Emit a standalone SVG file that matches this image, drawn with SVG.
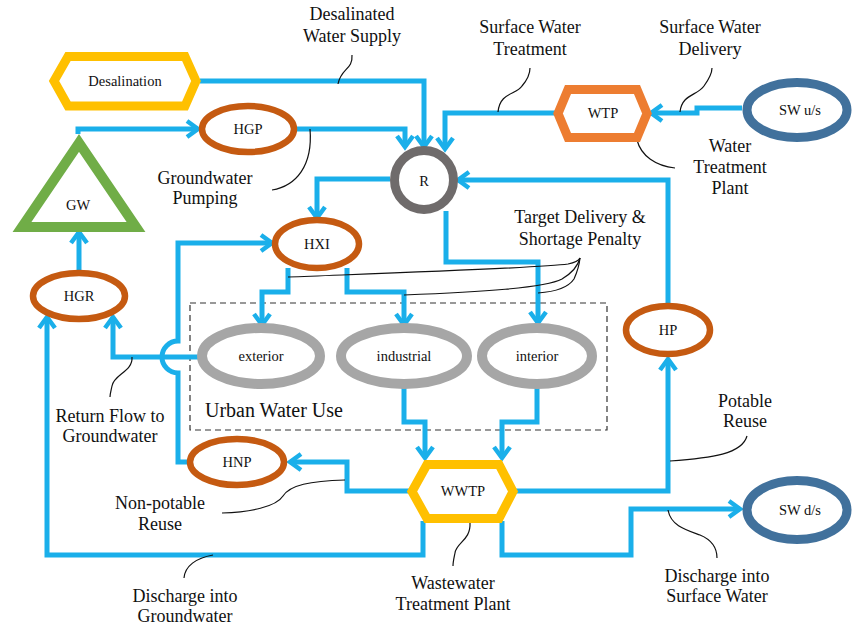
<svg xmlns="http://www.w3.org/2000/svg" width="852" height="626" viewBox="0 0 852 626">
<style>
.c{fill:none;stroke:#1AAFEA;stroke-width:5;stroke-linejoin:miter;marker-end:url(#ah)}
.k{fill:none;stroke:#111;stroke-width:1.2}
text{font-family:'Liberation Serif','DejaVu Serif','Tinos','Noto Serif',serif;fill:#111}
.lb{font-size:18px;text-anchor:middle}
.nt{font-size:14.5px;text-anchor:middle}
.hx{fill:#fff;stroke-width:9}
.br{fill:#fff;stroke:#C55A11;stroke-width:6.5}
.use{fill:#fff;stroke:#A6A6A6;stroke-width:10}
.sw{fill:#fff;stroke:#41719C;stroke-width:9}
</style>
<defs>
<marker id="ah" markerUnits="userSpaceOnUse" markerWidth="24" markerHeight="24" viewBox="-14 -12 18 24" refX="0" refY="0" orient="auto" overflow="visible">
<path d="M-11,-8 L0,0 L-11,8" fill="none" stroke="#1AAFEA" stroke-width="4.5"/>
</marker>
</defs>
<rect width="852" height="626" fill="#fff"/>

<g id="urban-box">
<rect x="190" y="303" width="417" height="127" fill="none" stroke="#333" stroke-width="1.2" stroke-dasharray="6,4"/>
<text x="205" y="417" font-size="20">Urban Water Use</text>
</g>

<g id="connectors">
<path class="c" d="M200,81 H424 V147"/>
<path class="c" d="M78,134 V129 H198"/>
<path class="c" d="M297,129 H405 V147"/>
<path class="c" d="M742,108 H697 V113 H651"/>
<path class="c" d="M556,113 H445 V149"/>
<path class="c" d="M390,179 H317 V218"/>
<path class="c" d="M668,304 V180 H458"/>
<path class="c" d="M446,211 V262 H538 V323"/>
<path class="c" d="M288,268 V292 H262 V325"/>
<path class="c" d="M347,268 V292 H404 V325"/>
<path class="c" d="M404,387 V422 H425 V458"/>
<path class="c" d="M537,387 V422 H502 V458"/>
<path class="c" d="M409,491 H347 V462 H290"/>
<path class="c" d="M188,462 H178 V373 A16,16 0 0 1 178,341 V243 H272"/>
<path class="c" d="M198,357 H113 V317"/>
<path class="c" d="M423,521 V555 H47 V317"/>
<path class="c" d="M515,491 H668 V359"/>
<path class="c" d="M502,521 V555 H631 V509 H740"/>
<path class="c" d="M79,270 V232"/>
</g>

<g id="callouts">
<path class="k" d="M338,84 C341,68 353,70 352,55"/>
<path class="k" d="M498,112 C500,92 516,95 522,86 C528,79 530,74 530,68"/>
<path class="k" d="M680,112 C682,94 697,96 704,86 C709,79 712,74 712,68"/>
<path class="k" d="M637,140 C641,156 656,166 675,168"/>
<path class="k" d="M310,129 C313,166 296,186 272,190"/>
<path class="k" d="M288,277 C420,272 540,268 568,264 Q578,262 580,258"/>
<path class="k" d="M404,295 C480,292 545,288 562,279 Q577,270 580,258"/>
<path class="k" d="M538,293 Q566,291 574,279 Q579,268 580,258"/>
<path class="k" d="M132,357 C133,372 114,374 112,386 C111,391 110,394 110,397"/>
<path class="k" d="M345,480 C310,481 290,485 283,496 C276,507 250,512 222,513"/>
<path class="k" d="M213,555 C196,558 185,566 184,578"/>
<path class="k" d="M470,523 C471,540 456,543 455,553 C454,558 453,562 453,566"/>
<path class="k" d="M670,461 C712,458 742,454 747,436"/>
<path class="k" d="M668,510 C671,526 686,530 700,535 C712,540 717,548 717,558"/>
</g>

<g id="labels">
<text class="lb" x="352" y="20">Desalinated</text>
<text class="lb" x="352" y="42">Water Supply</text>
<text class="lb" x="530" y="33">Surface Water</text>
<text class="lb" x="530" y="55">Treatment</text>
<text class="lb" x="710" y="33">Surface Water</text>
<text class="lb" x="710" y="55">Delivery</text>
<text class="lb" x="730" y="152">Water</text>
<text class="lb" x="730" y="173">Treatment</text>
<text class="lb" x="730" y="194">Plant</text>
<text class="lb" x="205" y="184">Groundwater</text>
<text class="lb" x="205" y="204">Pumping</text>
<text class="lb" x="580" y="223">Target Delivery &amp;</text>
<text class="lb" x="580" y="245">Shortage Penalty</text>
<text class="lb" x="110" y="422">Return Flow to</text>
<text class="lb" x="110" y="442">Groundwater</text>
<text class="lb" x="160" y="509">Non-potable</text>
<text class="lb" x="160" y="530">Reuse</text>
<text class="lb" x="185" y="602">Discharge into</text>
<text class="lb" x="185" y="622">Groundwater</text>
<text class="lb" x="453" y="589">Wastewater</text>
<text class="lb" x="453" y="610">Treatment Plant</text>
<text class="lb" x="745" y="407">Potable</text>
<text class="lb" x="745" y="427">Reuse</text>
<text class="lb" x="717" y="582">Discharge into</text>
<text class="lb" x="717" y="602">Surface Water</text>
</g>

<g id="desalination">
<polygon class="hx" stroke="#FFC000" points="54,81 68,56.5 185,56.5 196,81 185,106 68,106"/>
<text class="nt" x="125" y="86">Desalination</text>
</g>
<g id="gw">
<polygon fill="#fff" stroke="#70AD47" stroke-width="10" points="79,143 22,227 136,227"/>
<text class="nt" x="78" y="210">GW</text>
</g>
<g id="hgp">
<ellipse class="br" cx="248" cy="129" rx="46" ry="23"/>
<text class="nt" x="248" y="134">HGP</text>
</g>
<g id="r">
<circle cx="424" cy="180" r="29.5" fill="#fff" stroke="#6F6B6B" stroke-width="9"/>
<text class="nt" x="424" y="186">R</text>
</g>
<g id="wtp">
<polygon class="hx" stroke="#ED7D31" points="558,113.5 568,89.5 637,89.5 647,113.5 637,137.5 568,137.5"/>
<text class="nt" x="603" y="118">WTP</text>
</g>
<g id="sw-us">
<ellipse class="sw" cx="797" cy="110" rx="50" ry="27.5"/>
<text class="nt" x="800" y="115">SW u/s</text>
</g>
<g id="hxi">
<ellipse class="br" cx="317" cy="244" rx="42" ry="24"/>
<text class="nt" x="317" y="249">HXI</text>
</g>
<g id="hgr">
<ellipse class="br" cx="79" cy="296" rx="46" ry="23"/>
<text class="nt" x="79" y="301">HGR</text>
</g>
<g id="exterior">
<ellipse class="use" cx="261" cy="356" rx="59" ry="28"/>
<text class="nt" x="261" y="361">exterior</text>
</g>
<g id="industrial">
<ellipse class="use" cx="404" cy="356" rx="63" ry="28"/>
<text class="nt" x="404" y="361">industrial</text>
</g>
<g id="interior">
<ellipse class="use" cx="537" cy="356" rx="55" ry="28"/>
<text class="nt" x="537" y="361">interior</text>
</g>
<g id="hp">
<ellipse class="br" cx="668" cy="330" rx="42" ry="24"/>
<text class="nt" x="668" y="335">HP</text>
</g>
<g id="hnp">
<ellipse class="br" cx="237" cy="462" rx="47" ry="23"/>
<text class="nt" x="237" y="467">HNP</text>
</g>
<g id="wwtp">
<polygon class="hx" stroke="#FFC000" points="412,491.5 427,464.5 499,464.5 513,491.5 499,518.5 427,518.5"/>
<text class="nt" x="463" y="496">WWTP</text>
</g>
<g id="sw-ds">
<ellipse class="sw" cx="797" cy="510" rx="50" ry="29.5"/>
<text class="nt" x="800" y="515">SW d/s</text>
</g>
</svg>
